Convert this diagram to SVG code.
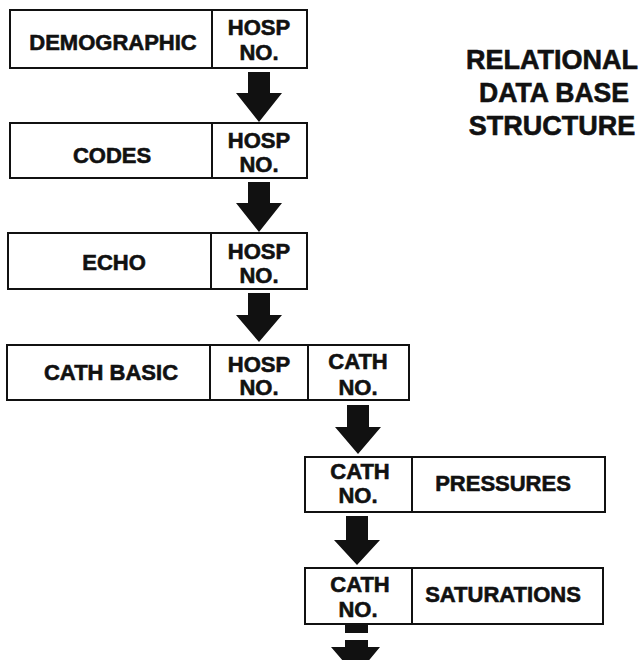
<svg xmlns="http://www.w3.org/2000/svg" width="643" height="660" viewBox="0 0 643 660">
<style>
.box{fill:#fff;stroke:#111;stroke-width:2}
.div{stroke:#111;stroke-width:2}
.t{font-family:"Liberation Sans",Arial,Helvetica,sans-serif;font-weight:bold;font-size:22px;fill:#111;stroke:#111;stroke-width:0.6;text-anchor:middle}
.title{font-family:"Liberation Sans",Arial,Helvetica,sans-serif;font-weight:bold;font-size:27px;fill:#111;stroke:#111;stroke-width:0.6;text-anchor:middle}
.arr{fill:#111;stroke:none}
</style>
<rect width="643" height="660" fill="#fff"/>
<g id="connectors">
<path class="arr" d="M248,72 H270 V93 H282 L259,122 L236,93 H248 Z"/>
<path class="arr" d="M248,182 H270 V203 H282 L259,232 L236,203 H248 Z"/>
<path class="arr" d="M248,293 H270 V315 H282 L259,342 L236,315 H248 Z"/>
<path class="arr" d="M347,405 H369 V427 H381 L358,454 L335,427 H347 Z"/>
<path class="arr" d="M346,516 H368 V540 H380 L357,565 L334,540 H346 Z"/>
<path class="arr" d="M345,624 H368 V633 H345 Z M345,640 H368 V647 H380 L356,676 L331,647 H345 Z"/>
</g>
<g id="demographic">
<rect class="box" x="10" y="10" width="297" height="58"/>
<line class="div" x1="212" y1="10" x2="212" y2="68"/>
<text class="t" x="113" y="50">DEMOGRAPHIC</text>
<text class="t" x="259" y="35">HOSP</text>
<text class="t" x="259" y="60">NO.</text>
</g>
<g id="codes">
<rect class="box" x="10" y="123" width="297" height="55"/>
<line class="div" x1="212" y1="123" x2="212" y2="178"/>
<text class="t" x="112" y="163">CODES</text>
<text class="t" x="259" y="148">HOSP</text>
<text class="t" x="259" y="172">NO.</text>
</g>
<g id="echo">
<rect class="box" x="8" y="233" width="299" height="56"/>
<line class="div" x1="211" y1="233" x2="211" y2="289"/>
<text class="t" x="114" y="270">ECHO</text>
<text class="t" x="259" y="259">HOSP</text>
<text class="t" x="259" y="283">NO.</text>
</g>
<g id="cath-basic">
<rect class="box" x="7" y="345" width="402" height="55"/>
<line class="div" x1="210" y1="345" x2="210" y2="400"/>
<line class="div" x1="308" y1="345" x2="308" y2="400"/>
<text class="t" x="111" y="380">CATH BASIC</text>
<text class="t" x="259" y="372">HOSP</text>
<text class="t" x="259" y="395">NO.</text>
<text class="t" x="358" y="369">CATH</text>
<text class="t" x="358" y="395">NO.</text>
</g>
<g id="pressures">
<rect class="box" x="305" y="457" width="300" height="55"/>
<line class="div" x1="412" y1="457" x2="412" y2="512"/>
<text class="t" x="360" y="479">CATH</text>
<text class="t" x="358" y="503">NO.</text>
<text class="t" x="503" y="491">PRESSURES</text>
</g>
<g id="saturations">
<rect class="box" x="305" y="568" width="298" height="56"/>
<line class="div" x1="412" y1="568" x2="412" y2="624"/>
<text class="t" x="360" y="592">CATH</text>
<text class="t" x="358" y="617">NO.</text>
<text class="t" x="503" y="602">SATURATIONS</text>
</g>
<g id="title">
<text class="title" x="552" y="69">RELATIONAL</text>
<text class="title" x="554" y="102" textLength="150" lengthAdjust="spacingAndGlyphs">DATA BASE</text>
<text class="title" x="552" y="135">STRUCTURE</text>
</g>
</svg>
